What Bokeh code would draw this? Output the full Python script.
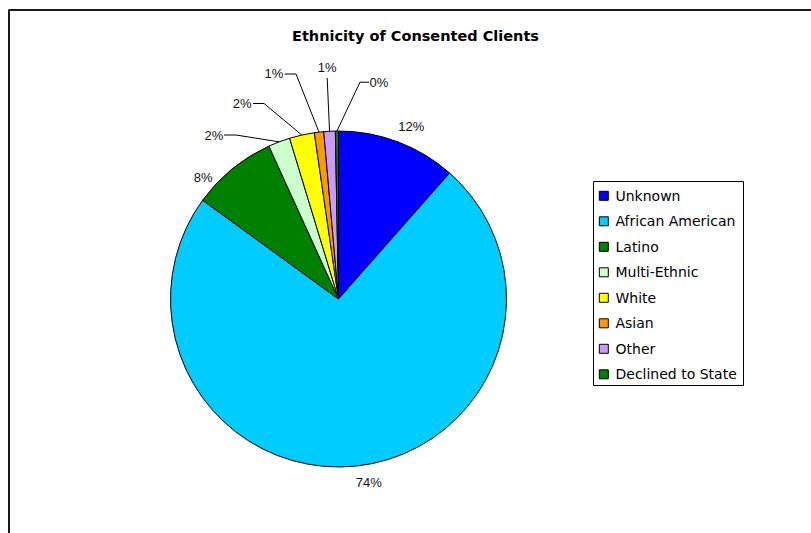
import math
from bokeh.plotting import figure
from bokeh.models import ColumnDataSource, Range1d
from bokeh.core.properties import value
from bokeh.embed import file_html
from bokeh.resources import INLINE

# ---------------- data ----------------
categories = ["Unknown", "African American", "Latino", "Multi-Ethnic",
              "White", "Asian", "Other", "Declined to State"]
shares = [11.5, 73.5, 8.2, 2.1, 2.4, 0.9, 1.1, 0.3]   # percent of clients
colors = ["#0000FF", "#00CCFF", "#008000", "#CCFFCC",
          "#FFFF00", "#FF9900", "#CC99FF", "#008000"]
title_text = "Ethnicity of Consented Clients"

# ---------------- layout (image pixels) ----------------
W, H = 811, 533
def px(x):  # image x -> data x
    return x
def py(y):  # image y -> data y
    return H - y

CX, CY, R = px(338), py(298.5), 168

# label positions (image px) and leader line geometry
label_pos = [(410.7, 125.5), (368.3, 481.7), (202.7, 177.3), (213.3, 135.0),
             (241.7, 102.7), (273.3, 73.3), (326.7, 66.7), (378.3, 81.7)]
leader_pts = [None, None, None,
              [(223.5, 134.5), (235.5, 134.5)],
              [(252.5, 103.0), (263.5, 103.0)],
              [(284.0, 73.5), (295.5, 73.5)],
              [(326.7, 77.5)],
              [(368.5, 81.7), (359.5, 81.7)]]

total = float(sum(shares))
cum = [0.0]
for s in shares:
    cum.append(cum[-1] + s / total)
starts = [math.pi / 2 - 2 * math.pi * cum[i + 1] for i in range(len(shares))]
ends = [math.pi / 2 - 2 * math.pi * cum[i] for i in range(len(shares))]
mids = [(a + b) / 2 for a, b in zip(starts, ends)]
labels = ["%d%%" % int(s / total * 100 + 0.5) for s in shares]

p = figure(width=W, height=H, output_backend="svg", toolbar_location=None,
           x_range=Range1d(0, W), y_range=Range1d(0, H),
           x_axis_location=None, y_axis_location=None,
           min_border=0, outline_line_color=None)
p.grid.visible = False
p.background_fill_color = "white"
p.border_fill_color = "white"

# chart area border (top and left visible)
p.segment(x0=[8, 8.5], y0=[py(9.5), py(9.5)], x1=[W, 8.5], y1=[py(9.5), 0],
          line_color="#1a1a1a", line_width=2)

# pie
src = ColumnDataSource(dict(start=starts, end=ends, color=colors, cat=categories))
p.wedge(x=CX, y=CY, radius=R, start_angle="start", end_angle="end",
        direction="anticlock", fill_color="color", line_color="black",
        line_width=1, source=src)

# leader lines
xs, ys = [], []
for i, pts in enumerate(leader_pts):
    if pts is None:
        continue
    ex = CX + R * math.cos(mids[i])
    ey = CY + R * math.sin(mids[i])
    xs.append([px(a) for a, b in pts] + [ex])
    ys.append([py(b) for a, b in pts] + [ey])
p.multi_line(xs=xs, ys=ys, line_color="black", line_width=1)

# data labels
p.text(x=[px(a) for a, b in label_pos], y=[py(b) for a, b in label_pos],
       text=labels, text_align="center", text_baseline="middle",
       text_font=value("Liberation Sans"), text_font_size="13px",
       text_color="#111111")

# title
p.text(x=[px(415)], y=[py(35)], text=[title_text], text_align="center",
       text_baseline="middle", text_font=value("DejaVu Sans"),
       text_font_style="bold", text_font_size="14.5px", text_color="black")

# legend (manual, Excel style)
p.rect(x=[px(668)], y=[py(283)], width=150, height=204,
       fill_color="white", line_color="black", line_width=1)
item_y = [py(195.3 + 25.5 * i) for i in range(len(categories))]
p.rect(x=[px(603.3)] * len(categories), y=item_y, width=9, height=9,
       fill_color=colors, line_color="black", line_width=1)
p.text(x=[px(615)] * len(categories), y=item_y, text=categories,
       text_align="left", text_baseline="middle",
       text_font=value("DejaVu Sans"), text_font_size="14px",
       text_color="black")

open("out.html", "w").write(file_html(p, INLINE))
